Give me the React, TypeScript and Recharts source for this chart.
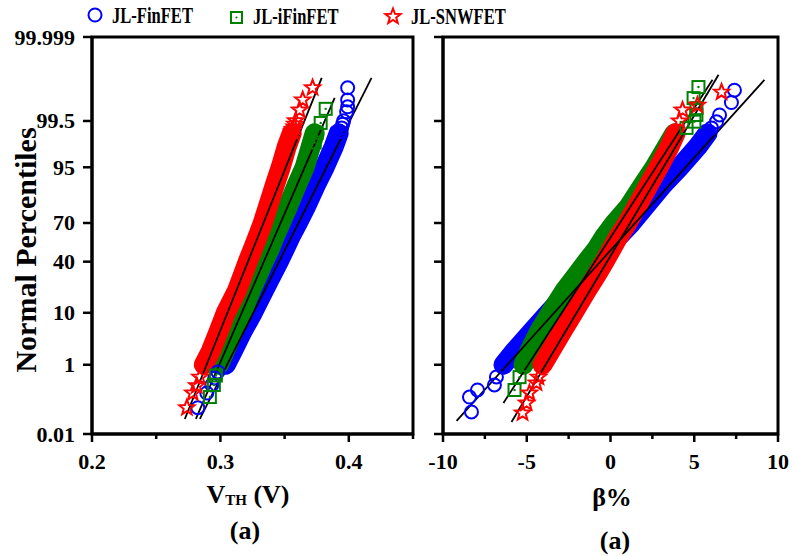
import React from 'react';
import { ComposedChart, Line, Scatter, XAxis, YAxis, ReferenceArea } from 'recharts';

// ---------- data ----------
const percentTicks = [0.01, 1, 10, 40, 70, 95, 99.5, 99.999];
const percentTickLabels = ['0.01', '1', '10', '40', '70', '95', '99.5', '99.999'];
const bandPercentiles = [1, 2, 5, 10, 20, 30, 40, 50, 60, 70, 80, 90, 95, 98, 99];

// Panel 1: VTH (V)
const vthTicks = [0.2, 0.25, 0.3, 0.35, 0.4, 0.45];
const vthMajorTicks = [0.2, 0.3, 0.4];
const vthFinFET = [0.3042, 0.3096, 0.3174, 0.3252, 0.3337, 0.34, 0.3454, 0.3501, 0.3547, 0.3602, 0.3664, 0.3742, 0.3812, 0.3882, 0.3921];
const vthIFinFET = [0.2988, 0.3034, 0.3104, 0.3166, 0.3236, 0.3291, 0.3337, 0.3384, 0.3423, 0.347, 0.3524, 0.3594, 0.3656, 0.3703, 0.3734];
const vthSNWFET = [0.2871, 0.2925, 0.2988, 0.3042, 0.3128, 0.3174, 0.3213, 0.3252, 0.3291, 0.333, 0.3369, 0.3423, 0.347, 0.3516, 0.3555];

const vthFinFETTailPct = [0.071, 0.19, 0.314, 0.477, 0.675, 99.1, 99.26, 99.4, 99.505, 99.711, 99.789, 99.865, 99.941];
const vthFinFETTail = [0.2824, 0.2894, 0.2933, 0.2956, 0.298, 0.393, 0.3944, 0.3952, 0.396, 0.3983, 0.3991, 0.3991, 0.3991];
const vthIFinFETTailPct = [0.146, 0.314, 0.55, 98.4, 99.03, 99.44, 99.76];
const vthIFinFETTail = [0.2918, 0.2949, 0.2965, 0.3734, 0.375, 0.3781, 0.382];
const vthSNWFETTailPct = [0.071, 0.19, 0.3, 0.5, 99.1, 99.2, 99.3, 99.4, 99.505, 99.74, 99.865, 99.941];
const vthSNWFETTail = [0.2739, 0.2785, 0.2816, 0.284, 0.356, 0.3565, 0.3575, 0.358, 0.3586, 0.3617, 0.3641, 0.3718];

// fitted lines: [value, percentile] end points
const vthFitFinFET = [[0.284, 0.0317], [0.4177, 99.9713]];
const vthFitIFinFET = [[0.2809, 0.0317], [0.389, 99.8826]];
const vthFitSNWFET = [[0.2723, 0.0317], [0.3789, 99.9713]];

// Panel 2: beta %
const betaTicks = [-10, -7.5, -5, -2.5, 0, 2.5, 5, 7.5, 10];
const betaMajorTicks = [-10, -5, 0, 5, 10];
const betaFinFET = [-6.39, -5.73, -4.66, -3.7, -2.51, -1.61, -0.84, -0.18, 0.48, 1.25, 2.03, 3.1, 4.12, 5.19, 5.79];
const betaIFinFET = [-5.19, -4.84, -4.24, -3.58, -2.75, -2.03, -1.43, -0.84, -0.36, 0.24, 1.07, 1.91, 2.63, 3.34, 3.82];
const betaSNWFET = [-4.06, -3.58, -2.87, -2.21, -1.43, -0.84, -0.36, 0.06, 0.48, 1.01, 1.55, 2.27, 2.87, 3.52, 3.88];

const betaFinFETTailPct = [0.0526, 0.146, 0.23, 0.314, 0.505, 99.26, 99.48, 99.65, 99.84, 99.93];
const betaFinFETTail = [-8.3, -8.42, -7.94, -6.93, -6.81, 6.03, 6.33, 6.51, 7.22, 7.4];
const betaIFinFETTailPct = [0.23, 0.5, 99.26, 99.48, 99.65, 99.77, 99.88, 99.944];
const betaIFinFETTail = [-5.73, -5.43, 4.54, 5.01, 5.13, 5.13, 4.96, 5.25];
const betaSNWFETTailPct = [0.049, 0.098, 0.19, 0.354, 0.5, 99.5, 99.74, 99.81, 99.92];
const betaSNWFETTail = [-5.25, -5.01, -4.84, -4.42, -4.3, 4.12, 4.3, 5.19, 6.63];

const betaFitFinFET = [[-9.19, 0.0273], [9.19, 99.9668]];
const betaFitIFinFET = [[-6.39, 0.0984], [6.09, 99.9668]];
const betaFitSNWFET = [[-5.91, 0.0253], [6.45, 99.9771]];

// ---------- probit scale helper ----------
function probit(p: number): number {
  const a = [-3.969683028665376e1, 2.209460984245205e2, -2.759285104469687e2, 1.38357751867269e2, -3.066479806614716e1, 2.506628277459239];
  const b = [-5.447609879822406e1, 1.615858368580409e2, -1.556989798598866e2, 6.680131188771972e1, -1.328068155288572e1];
  const c = [-7.784894002430293e-3, -3.223964580411365e-1, -2.400758277161838, -2.549732539343734, 4.374664141464968, 2.938163982698783];
  const d = [7.784695709041462e-3, 3.224671290700398e-1, 2.445134137142996, 3.754408661907416];
  const pl = 0.02425;
  if (p < pl) {
    const q = Math.sqrt(-2 * Math.log(p));
    return (((((c[0] * q + c[1]) * q + c[2]) * q + c[3]) * q + c[4]) * q + c[5]) / ((((d[0] * q + d[1]) * q + d[2]) * q + d[3]) * q + 1);
  }
  if (p <= 1 - pl) {
    const q = p - 0.5;
    const r = q * q;
    return ((((((a[0] * r + a[1]) * r + a[2]) * r + a[3]) * r + a[4]) * r + a[5]) * q) / (((((b[0] * r + b[1]) * r + b[2]) * r + b[3]) * r + b[4]) * r + 1);
  }
  const q = Math.sqrt(-2 * Math.log(1 - p));
  return -(((((c[0] * q + c[1]) * q + c[2]) * q + c[3]) * q + c[4]) * q + c[5]) / ((((d[0] * q + d[1]) * q + d[2]) * q + d[3]) * q + 1);
}
const toZ = (pct: number) => probit(pct / 100);
const zTicks = percentTicks.map(toZ);
const zMin = zTicks[0];
const zMax = zTicks[zTicks.length - 1];

const makePts = (vals: number[], pcts: number[]) => vals.map((v, i) => ({ x: v, y: toZ(pcts[i]) }));
const makeFit = (pts: number[][]) => pts.map(([v, p]) => ({ x: v, y: toZ(p) }));

// ---------- styles ----------
const BLUE = '#0000FF';
const GREEN = '#008000';
const RED = '#FF0000';
const FONT = "'Liberation Serif', 'Times New Roman', serif";

const CircleMark = (props: any) => {
  const { cx, cy } = props;
  if (cx == null || cy == null) return <g />;
  return <circle cx={cx} cy={cy} r={6.5} fill="none" stroke={BLUE} strokeWidth={2} />;
};
const SquareMark = (props: any) => {
  const { cx, cy } = props;
  if (cx == null || cy == null) return <g />;
  return (
    <g>
      <rect x={cx - 6} y={cy - 6} width={12} height={12} fill="none" stroke={GREEN} strokeWidth={2} />
      <circle cx={cx} cy={cy} r={1.2} fill={GREEN} />
    </g>
  );
};
const starPoints = (cx: number, cy: number, R: number, r: number) => {
  const pts: string[] = [];
  for (let i = 0; i < 10; i++) {
    const ang = -Math.PI / 2 + (i * Math.PI) / 5;
    const rad = i % 2 === 0 ? R : r;
    pts.push(`${(cx + rad * Math.cos(ang)).toFixed(2)},${(cy + rad * Math.sin(ang)).toFixed(2)}`);
  }
  return pts.join(' ');
};
const StarMark = (props: any) => {
  const { cx, cy } = props;
  if (cx == null || cy == null) return <g />;
  return <polygon points={starPoints(cx, cy, 8, 3.4)} fill="none" stroke={RED} strokeWidth={2} strokeLinejoin="miter" />;
};

const makeXTick = (majors: number[]) => (props: any) => {
  const { x, y, payload } = props;
  const v = payload.value;
  const isMajor = majors.some((m) => Math.abs(m - v) < 1e-9);
  return (
    <g>
      <line x1={x} y1={y} x2={x} y2={y + (isMajor ? 8 : 5)} stroke="#000" strokeWidth={2.5} />
      {isMajor && (
        <text x={x} y={y + 27} textAnchor="middle" dominantBaseline="central" fontFamily={FONT} fontWeight="bold" fontSize={22} fill="#000">
          {String(v)}
        </text>
      )}
    </g>
  );
};

const makeYTick = (showLabel: boolean) => (props: any) => {
  const { x, y, payload } = props;
  const idx = zTicks.findIndex((z) => Math.abs(z - payload.value) < 1e-6);
  return (
    <g>
      <line x1={x - 9} y1={y} x2={x} y2={y} stroke="#000" strokeWidth={2.5} />
      {showLabel && (
        <text x={x - 17} y={y} textAnchor="end" dominantBaseline="central" fontFamily={FONT} fontWeight="bold" fontSize={22} fill="#000">
          {percentTickLabels[idx]}
        </text>
      )}
    </g>
  );
};

type PanelProps = {
  width: number;
  marginLeft: number;
  marginRight: number;
  yWidth: number;
  domain: [number, number];
  ticks: number[];
  majors: number[];
  showYLabels: boolean;
  bandWidth: number;
  bands: { vals: number[]; color: string }[];
  tails: { vals: number[]; pcts: number[]; shape: any }[];
  fits: number[][][];
};

const Panel = (p: PanelProps) => (
  <ComposedChart width={p.width} height={556} margin={{ top: 37, right: p.marginRight, bottom: 0, left: p.marginLeft }}>
    <XAxis
      type="number"
      dataKey="x"
      domain={p.domain}
      ticks={p.ticks}
      allowDataOverflow
      interval={0}
      height={122}
      axisLine={{ stroke: '#000', strokeWidth: 3 }}
      tickLine={false}
      tickSize={0}
      tickMargin={0}
      tick={makeXTick(p.majors)}
    />
    <YAxis
      type="number"
      dataKey="y"
      domain={[zMin, zMax]}
      ticks={zTicks}
      allowDataOverflow
      interval={0}
      width={p.yWidth}
      axisLine={{ stroke: '#000', strokeWidth: 3 }}
      tickLine={false}
      tickSize={0}
      tickMargin={0}
      tick={makeYTick(p.showYLabels)}
    />
    {p.bands.map((b, i) => (
      <Line
        key={'band' + i}
        data={makePts(b.vals, bandPercentiles)}
        dataKey="y"
        type="linear"
        stroke={b.color}
        strokeWidth={p.bandWidth}
        strokeLinecap="round"
        strokeLinejoin="round"
        dot={false}
        activeDot={false}
        isAnimationActive={false}
      />
    ))}
    {p.tails.map((t, i) => (
      <Scatter key={'tail' + i} data={makePts(t.vals, t.pcts)} shape={t.shape} isAnimationActive={false} />
    ))}
    {p.fits.map((f, i) => (
      <Line
        key={'fit' + i}
        data={makeFit(f)}
        dataKey="y"
        type="linear"
        stroke="#000"
        strokeWidth={1.8}
        dot={false}
        activeDot={false}
        isAnimationActive={false}
      />
    ))}
    <ReferenceArea x1={p.domain[0]} x2={p.domain[1]} y1={zMin} y2={zMax} fill="none" fillOpacity={0} stroke="#000" strokeWidth={3} />
  </ComposedChart>
);

export default function App() {
  return (
    <div style={{ position: 'absolute', left: 0, top: 0, width: 792, height: 556, background: '#fff', overflow: 'hidden' }}>
      <div style={{ position: 'absolute', left: 0, top: 0 }}>
        <Panel
          width={420}
          marginLeft={0}
          marginRight={7}
          yWidth={92}
          domain={[0.2, 0.45]}
          ticks={vthTicks}
          majors={vthMajorTicks}
          showYLabels={true}
          bandWidth={20}
          bands={[
            { vals: vthFinFET, color: BLUE },
            { vals: vthIFinFET, color: GREEN },
            { vals: vthSNWFET, color: RED },
          ]}
          tails={[
            { vals: vthFinFETTail, pcts: vthFinFETTailPct, shape: CircleMark },
            { vals: vthIFinFETTail, pcts: vthIFinFETTailPct, shape: SquareMark },
            { vals: vthSNWFETTail, pcts: vthSNWFETTailPct, shape: StarMark },
          ]}
          fits={[vthFitFinFET, vthFitIFinFET, vthFitSNWFET]}
        />
      </div>
      <div style={{ position: 'absolute', left: 420, top: 0 }}>
        <Panel
          width={372}
          marginLeft={10}
          marginRight={14}
          yWidth={13}
          domain={[-10, 10]}
          ticks={betaTicks}
          majors={betaMajorTicks}
          showYLabels={false}
          bandWidth={20}
          bands={[
            { vals: betaFinFET, color: BLUE },
            { vals: betaIFinFET, color: GREEN },
            { vals: betaSNWFET, color: RED },
          ]}
          tails={[
            { vals: betaFinFETTail, pcts: betaFinFETTailPct, shape: CircleMark },
            { vals: betaIFinFETTail, pcts: betaIFinFETTailPct, shape: SquareMark },
            { vals: betaSNWFETTail, pcts: betaSNWFETTailPct, shape: StarMark },
          ]}
          fits={[betaFitFinFET, betaFitIFinFET, betaFitSNWFET]}
        />
      </div>
      <svg width={792} height={556} style={{ position: 'absolute', left: 0, top: 0, pointerEvents: 'none' }}>
        {/* legend */}
        <circle cx={95} cy={15} r={6.5} fill="none" stroke={BLUE} strokeWidth={2} />
        <text transform="translate(112,15) scale(0.69,1)" dominantBaseline="central" fontFamily={FONT} fontWeight="bold" fontSize={24} fill="#000">
          JL-FinFET
        </text>
        <rect x={231} y={12} width={11} height={11} fill="none" stroke={GREEN} strokeWidth={2} />
        <circle cx={236.5} cy={17.5} r={1.1} fill={GREEN} />
        <text transform="translate(253,16) scale(0.69,1)" dominantBaseline="central" fontFamily={FONT} fontWeight="bold" fontSize={24} fill="#000">
          JL-iFinFET
        </text>
        <polygon points={starPoints(393, 16.5, 8, 3.4)} fill="none" stroke={RED} strokeWidth={2} />
        <text transform="translate(411,16) scale(0.69,1)" dominantBaseline="central" fontFamily={FONT} fontWeight="bold" fontSize={24} fill="#000">
          JL-SNWFET
        </text>
        {/* axis titles */}
        <text transform="translate(25,250) rotate(-90)" textAnchor="middle" dominantBaseline="central" fontFamily={FONT} fontWeight="bold" fontSize={30} fill="#000">
          Normal Percentiles
        </text>
        <text x={248} y={494} textAnchor="middle" dominantBaseline="central" fontFamily={FONT} fontWeight="bold" fontSize={26} fill="#000">
          V<tspan fontSize={15} dy={6}>TH</tspan>
          <tspan dy={-6}> (V)</tspan>
        </text>
        <text x={245} y={530} textAnchor="middle" dominantBaseline="central" fontFamily={FONT} fontWeight="bold" fontSize={26} fill="#000">
          (a)
        </text>
        <text x={612} y={497} textAnchor="middle" dominantBaseline="central" fontFamily={FONT} fontWeight="bold" fontSize={26} fill="#000">
          β%
        </text>
        <text x={615} y={540} textAnchor="middle" dominantBaseline="central" fontFamily={FONT} fontWeight="bold" fontSize={26} fill="#000">
          (a)
        </text>
      </svg>
    </div>
  );
}
